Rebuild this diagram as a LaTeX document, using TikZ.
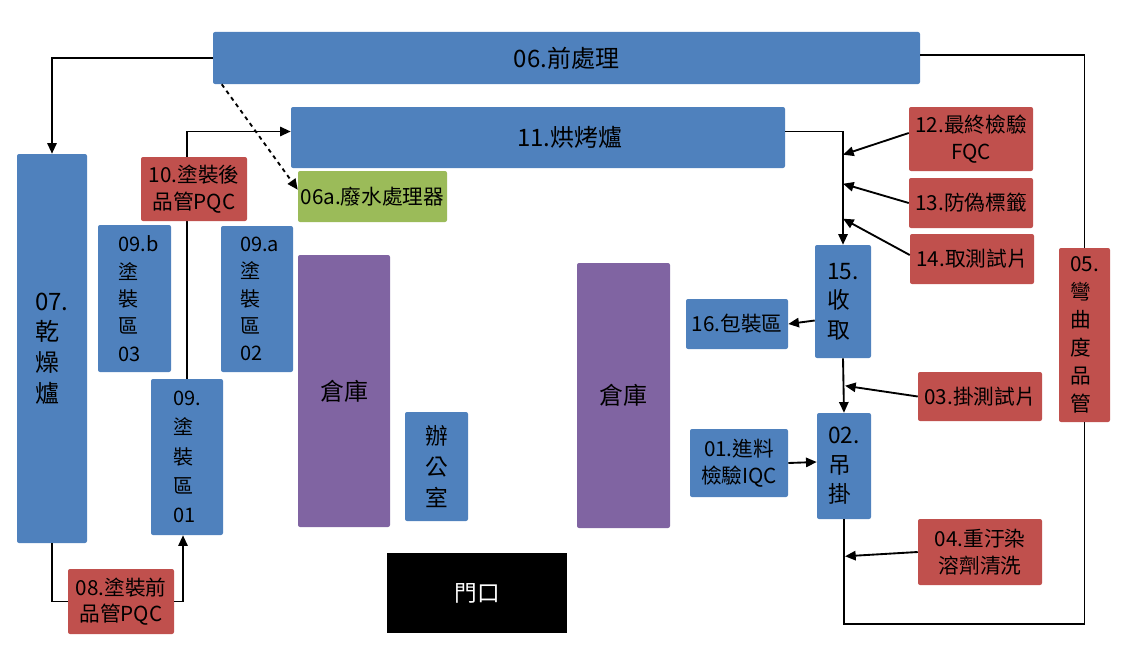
\documentclass[tikz,border=0pt]{standalone}
\usepackage{fontspec}
\setmainfont{Noto Sans CJK TC}
\usetikzlibrary{calc,arrows.meta}
\definecolor{cblue}{HTML}{4F81BD}
\definecolor{cred}{HTML}{C0504D}
\definecolor{cgreen}{HTML}{9BBB59}
\definecolor{cpurple}{HTML}{8064A2}
\newcommand{\fs}[2]{\fontsize{#1}{#2}\selectfont}
% \bx[style]{name}{x1}{y1}{x2}{y2}{text}  (pixel coordinates)
\newcommand{\bx}[7][]{\node[#1, minimum width={(#5-#3)*0.75pt}, minimum height={(#6-#4)*0.75pt}] (#2) at ({(#3+#5)/2},{(#4+#6)/2}) {#7};}
\begin{document}
\begin{tikzpicture}[x=0.75pt,y=-0.75pt,
  box/.style={inner sep=0pt, rounded corners=1.5pt, align=center, font=\fs{15.5}{20}},
  bbox/.style={box, fill=cblue},
  rbox/.style={box, fill=cred},
  gbox/.style={box, fill=cgreen},
  pbox/.style={box, fill=cpurple},
  kbox/.style={box, fill=black, text=white, rounded corners=0pt},
  conn/.style={line width=1.4pt, black},
  arr/.style={conn, -{Triangle[length=8pt,width=7pt]}}
]
\useasboundingbox (0,0) rectangle (1137,660);
% nodes
\bx[bbox, font=\fs{18}{22}]{p06}{213}{32}{920}{84}{06.前處理}
\bx[bbox, font=\fs{18}{22}]{p11}{291}{107}{785}{168}{\hspace*{48pt}11.烘烤爐}
\bx[gbox]{p06a}{298}{171}{447}{222}{06a.廢水處理器}
\bx[bbox, font=\fs{18}{23}, align=left]{p07}{17}{154}{87}{543}{07.\\乾\\燥\\爐}
\bx[bbox, font=\fs{15}{20.5}, align=left]{p09b}{98}{225}{171}{372}{\hspace*{6pt}09.b\\\hspace*{6pt}塗\\\hspace*{6pt}裝\\\hspace*{6pt}區\\\hspace*{6pt}03}
\bx[bbox, font=\fs{15}{20.5}, align=left]{p09a}{221}{226}{293}{372}{\hspace*{4pt}09.a\\\hspace*{4pt}塗\\\hspace*{4pt}裝\\\hspace*{4pt}區\\\hspace*{4pt}02}
\bx[bbox, font=\fs{15}{22}, align=left]{p09}{151}{379}{223}{535}{09.\\塗\\裝\\區\\01}
\bx[rbox]{p08}{68}{569}{174}{634}{08.塗裝前\\品管PQC}
\bx[pbox, font=\fs{18}{22}]{pw1}{298}{255}{390}{527}{倉庫}
\bx[bbox, font=\fs{17}{23}]{poff}{405}{412}{468}{521}{辦\\公\\室}
\bx[kbox, font=\fs{17}{22}]{pdoor}{387}{553}{567}{633}{門口}
\bx[pbox, font=\fs{18}{22}]{pw2}{577}{263}{670}{528}{倉庫}
\bx[bbox]{p16}{686}{299}{788}{349}{16.包裝區}
\bx[bbox]{p01}{690}{429}{788}{497}{01.進料\\檢驗IQC}
\bx[bbox, font=\fs{17}{22}, align=left]{p15}{815}{245}{871}{358}{15.\\收\\取}
\bx[bbox, font=\fs{17}{22}, align=left]{p02}{817}{413}{871}{519}{02.\\吊\\掛}
\bx[rbox]{p12}{909}{107}{1033}{171}{12.最終檢驗\\FQC}
\bx[rbox]{p13}{909}{178}{1033}{228}{13.防偽標籤}
\bx[rbox]{p14}{910}{234}{1034}{284}{14.取測試片}
\bx[rbox]{p03}{918}{372}{1042}{421}{03.掛測試片}
\bx[rbox]{p04}{918}{519}{1042}{585}{04.重汙染\\溶劑清洗}
\bx[rbox, font=\fs{15.5}{21}, align=left]{p05}{1059}{248}{1110}{422}{05.\\彎\\曲\\度\\品\\管}
% connectors
\draw[arr] (p09.north) |- ($(p11.west)+(0,-6)$);
\bx[rbox]{p10}{141}{157}{247}{221}{10.塗裝後\\品管PQC}
\draw[arr] (p06.west) -| (p07.north);
\draw[arr, dashed] ($(p06.south west)+(9,0)$) -- ($(p06a.north west)+(0,19)$);
\draw[conn] (p07.south) |- (p08.west);
\draw[arr] (p08.east) -| ($(p09.south)+(-4,0)$);
\draw[arr] ($(p11.east)+(0,-6)$) -| (p15.north);
\coordinate (j12) at ($(p15.north)+(0,-90)$);
\coordinate (j13) at ($(p15.north)+(0,-61)$);
\coordinate (j14) at ($(p15.north)+(0,-26)$);
\draw[arr] ($(p12.west)+(0,-6)$) -- (j12);
\draw[arr] (p13.west) -- (j13);
\draw[arr] ($(p14.west)+(0,-4)$) -- (j14);
\draw[arr] ($(p15.west)+(0,19)$) -- (p16.east);
\draw[arr] (p15.south) -- (p02.north);
\coordinate (j03) at ($(p02.north)+(1,-27)$);
\draw[arr] (p03.west) -- (j03);
\draw[arr] (p01.east) -- ($(p02.west)+(0,-4)$);
\coordinate (j04) at ($(p02.south)+(1,37)$);
\draw[arr] (p04.west) -- (j04);
\coordinate (lb) at ($(p02.south)+(0,105)$);
\draw[conn] (p02.south) -- (lb) -| (p05.south);
\draw[conn] (p05.north) |- ($(p06.east)+(0,-3)$);
\end{tikzpicture}
\end{document}
